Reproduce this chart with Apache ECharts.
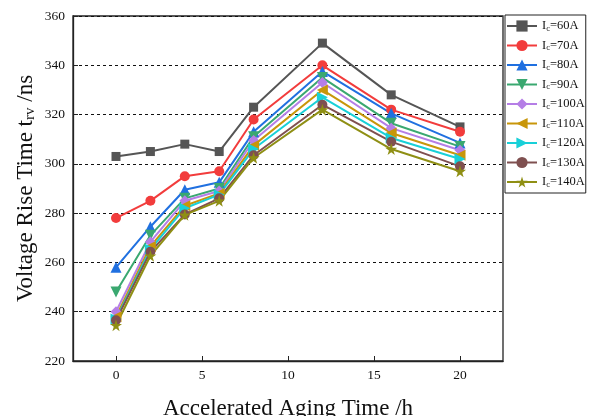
<!DOCTYPE html>
<html>
<head>
<meta charset="utf-8">
<script src="https://cdn.jsdelivr.net/npm/echarts@6/dist/echarts.min.js"></script>
<style>
  html, body { margin: 0; padding: 0; background: #fff; }
  #chart { width: 590px; height: 416px; }
</style>
</head>
<body>
<div id="chart"></div>
<script>
// accelerated aging time (h)
const hours = [0, 2, 4, 6, 8, 12, 16, 20];

// collector currents (legend labels)
const currents = ["60A", "70A", "80A", "90A", "100A", "110A", "120A", "130A", "140A"];

// voltage rise time t_rv (ns), one array per current
const tr60  = [303, 305, 308, 305, 323, 349, 328, 315];
const tr70  = [278, 285, 295, 297, 318, 340, 322, 313];
const tr80  = [258, 274.5, 289.5, 292.5, 313, 337.5, 320.5, 308.5];
const tr90  = [248, 271, 286, 290, 311, 335, 316.5, 307];
const tr100 = [240, 268.3, 285, 289, 309.5, 333, 314.5, 305.5];
const tr110 = [238, 266.5, 283, 288, 307.5, 330, 312.5, 303.5];
const tr120 = [237, 265.3, 282, 287.5, 306, 327, 310.5, 302];
const tr130 = [236.5, 264.3, 279.5, 286, 303.5, 324, 309, 299];
const tr140 = [234.5, 262.7, 279.3, 285, 302.5, 322, 306, 297];

const values = [tr60, tr70, tr80, tr90, tr100, tr110, tr120, tr130, tr140];

const STAR = "path://M50,0 L61,35 L98,35 L68,57 L79,91 L50,70 L21,91 L32,57 L2,35 L39,35 Z";
const look = [
  { color: "#555555", symbol: "rect", size: 9, rot: 0 },
  { color: "#f23c3c", symbol: "circle", size: 10, rot: 0 },
  { color: "#2070e0", symbol: "triangle", size: 11, rot: 0 },
  { color: "#3aa870", symbol: "triangle", size: 11, rot: 180 },
  { color: "#b57ee6", symbol: "diamond", size: 11, rot: 0 },
  { color: "#c8960a", symbol: "triangle", size: 11, rot: 90 },
  { color: "#18d0d8", symbol: "triangle", size: 11, rot: -90 },
  { color: "#7f5050", symbol: "circle", size: 10, rot: 0 },
  { color: "#8f8f14", symbol: STAR, size: 12, rot: 0 }
];

const FONT = "Liberation Serif";

const series = currents.map((c, i) => ({
  name: "Ic=" + c,
  type: "line",
  data: hours.map((h, j) => [h, values[i][j]]),
  symbol: look[i].symbol,
  symbolSize: look[i].size,
  symbolRotate: look[i].rot,
  showAllSymbol: true,
  lineStyle: { color: look[i].color, width: 2 },
  itemStyle: { color: look[i].color },
  emphasis: { disabled: true },
  animation: false
}));

const chart = echarts.init(document.getElementById("chart"), null, { renderer: "canvas" });
chart.setOption({
  animation: false,
  backgroundColor: "#fff",
  grid: {
    left: 73, right: 87, top: 16, bottom: 55,
    outerBoundsMode: "none", containLabel: false,
    show: true, borderColor: "#222", borderWidth: 1.3, backgroundColor: "transparent"
  },
  legend: {
    orient: "vertical", left: 505, top: 15,
    padding: [4, 1, 4, 1],
    borderColor: "#222", borderWidth: 1, borderRadius: 0,
    itemWidth: 30, itemHeight: 14, itemGap: 5.5,
    data: series.map(s => s.name),
    formatter: (name) => "{a|I}{s|c}{a|" + name.slice(2) + "}",
    textStyle: {
      fontFamily: FONT, color: "#111", fontSize: 12.5,
      rich: {
        a: { fontFamily: FONT, fontSize: 12.5, color: "#111", lineHeight: 14 },
        s: { fontFamily: FONT, fontSize: 8.5, color: "#111", lineHeight: 14, verticalAlign: "bottom", padding: [5, 0, 0, 0] }
      }
    }
  },
  xAxis: {
    type: "value", min: -2.5, max: 22.5, interval: 5,
    name: "Accelerated Aging Time /h", nameLocation: "middle", nameGap: 36, nameMoveOverlap: false,
    nameTextStyle: { fontFamily: FONT, fontSize: 23, color: "#111" },
    axisLine: { onZero: false, lineStyle: { color: "#222", width: 1.3 } },
    axisTick: { inside: true, length: 5, lineStyle: { color: "#222" }, customValues: [0, 5, 10, 15, 20] },
    axisLabel: { fontFamily: FONT, fontSize: 13.5, color: "#111", margin: 7, customValues: [0, 5, 10, 15, 20] },
    splitLine: { show: false }
  },
  yAxis: {
    type: "value", min: 220, max: 360, interval: 20,
    name: "{a|Voltage Rise Time t}{s|rv}{a| /ns}", nameLocation: "middle", nameGap: 35, nameMoveOverlap: false,
    nameTextStyle: {
      fontFamily: FONT, fontSize: 23, color: "#111",
      rich: {
        a: { fontFamily: FONT, fontSize: 23, color: "#111", lineHeight: 24 },
        s: { fontFamily: FONT, fontSize: 15, color: "#111", lineHeight: 24, verticalAlign: "bottom", padding: [9, 0, 0, 0] }
      }
    },
    axisLine: { onZero: false, lineStyle: { color: "#222", width: 1.3 } },
    axisTick: { inside: true, length: 5, lineStyle: { color: "#222" } },
    axisLabel: { fontFamily: FONT, fontSize: 13.5, color: "#111", margin: 8 },
    splitLine: { show: true, lineStyle: { color: "#111", type: [3, 3], width: 1 } }
  },
  series
});
</script>
</body>
</html>
